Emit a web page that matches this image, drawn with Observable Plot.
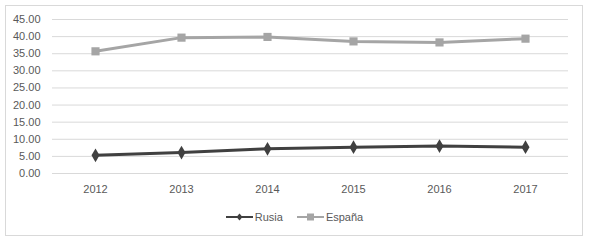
<!DOCTYPE html>
<html><head><meta charset="utf-8">
<script src="https://cdn.jsdelivr.net/npm/d3@7"></script>
<script src="https://cdn.jsdelivr.net/npm/@observablehq/plot@0.6"></script>
<style>
body{margin:0;background:#fff;}
#wrap{position:relative;width:589px;height:241px;font-family:"Liberation Sans",Arial,sans-serif;}
#frame{position:absolute;left:5px;top:5px;width:576px;height:229px;border:1px solid #d9d9d9;}
#chart{position:absolute;left:0;top:0;}
#legend{position:absolute;left:0;top:211px;width:589px;display:flex;justify-content:center;gap:14px;font-size:11px;color:#595959;align-items:center;}
#legend span{display:flex;align-items:center;gap:2px;}
</style></head>
<body><div id="wrap"><div id="frame"></div><div id="chart"></div><div id="legend"></div></div>
<script>
const years = ["2012","2013","2014","2015","2016","2017"];
const rusia = [5.3, 6.1, 7.2, 7.7, 8.0, 7.7];
const espana = [35.7, 39.7, 39.9, 38.6, 38.3, 39.4];
const yTicks = [0,5,10,15,20,25,30,35,40,45];
const seriesNames = ["Rusia","España"];
const colors = ["#404040","#a5a5a5"];

const data = [];
years.forEach((y,i)=>{data.push({year:y,value:rusia[i],serie:"Rusia"});data.push({year:y,value:espana[i],serie:"España"});});

const plot = Plot.plot({
  width:589, height:205,
  marginTop:19, marginBottom:32, marginLeft:52, marginRight:21,
  style:{fontFamily:"Liberation Sans, Arial, sans-serif", fontSize:"11px", color:"#595959", background:"transparent"},
  x:{type:"point", domain:years, padding:0.5, label:null},
  y:{domain:[0,45], label:null},
  marks:[
    Plot.ruleY(yTicks,{stroke:"#d9d9d9",strokeWidth:1}),
    Plot.axisY({ticks:yTicks, tickFormat:d3.format(".2f"), tickSize:0, tickPadding:12, label:null, fill:"#595959"}),
    Plot.axisX({tickSize:0, tickPadding:12, label:null, fill:"#595959"}),
    Plot.line(data.filter(d=>d.serie==="España"),{x:"year",y:"value",stroke:colors[1],strokeWidth:3}),
    Plot.dot(data.filter(d=>d.serie==="España"),{x:"year",y:"value",symbol:"square",r:4.6,fill:colors[1]}),
    Plot.line(data.filter(d=>d.serie==="Rusia"),{x:"year",y:"value",stroke:colors[0],strokeWidth:3}),
    Plot.dot(data.filter(d=>d.serie==="Rusia"),{x:"year",y:"value",symbol:"diamond",r:4.2,fill:colors[0]})
  ]
});
document.getElementById("chart").appendChild(plot);

const leg = document.getElementById("legend");
const shapes = [
  '<polygon points="13.5,1.5 16.5,5 13.5,8.5 10.5,5" fill="#404040"/>',
  '<rect x="10" y="1.5" width="7" height="7" fill="#a5a5a5"/>'
];
seriesNames.forEach((n,i)=>{
  const s=document.createElement("span");
  s.innerHTML=`<svg width="27" height="10"><line x1="0" x2="27" y1="5" y2="5" stroke="${colors[i]}" stroke-width="2"/>${shapes[i]}</svg>${n}`;
  leg.appendChild(s);
});
</script></body></html>
